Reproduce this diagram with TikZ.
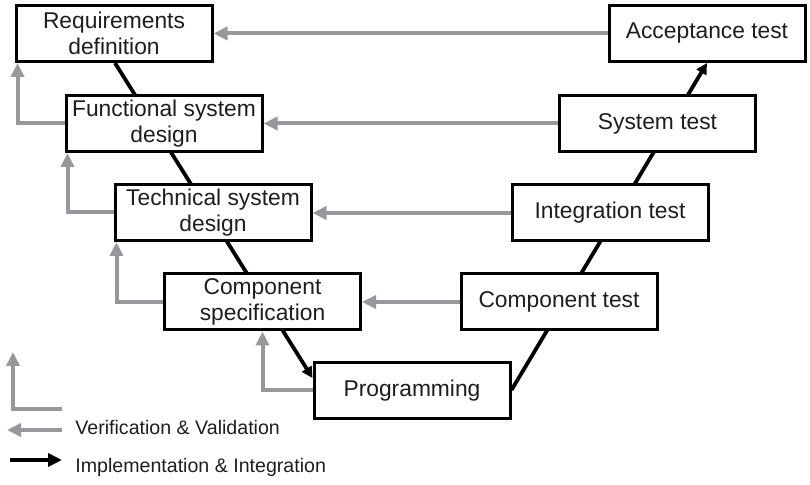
\documentclass[tikz,border=0pt]{standalone}
\usepackage{fontspec}
\setmainfont{Liberation Sans}
\usetikzlibrary{arrows.meta,calc,backgrounds}
\definecolor{vgray}{RGB}{150,152,156}
\definecolor{txt}{RGB}{30,30,30}
\tikzset{
  stagebox/.style={draw=black, line width=1.5pt, fill=white, minimum width=98pt, minimum height=28pt,
    align=center, inner sep=1pt, text=txt, font=\fontsize{11.4}{13}\selectfont},
  vv/.style={draw=vgray, line width=2pt, -{Triangle[length=7pt,width=6.5pt]}},
  impl/.style={draw=black, line width=1.9pt, -{Triangle[length=5.5pt,width=5.5pt]}},
  impllegend/.style={draw=black, line width=1.9pt, -{Triangle[length=7pt,width=6.5pt]}},
  legtext/.style={anchor=west, text=txt, font=\fontsize{9.8}{11}\selectfont, inner sep=0pt}
}
\begin{document}
\begin{tikzpicture}[x=0.5pt,y=-0.5pt]
\useasboundingbox (0,0) rectangle (810,485);
% boxes
\node[stagebox] (req)  at (114,33.5)  {Requirements\\definition};
\node[stagebox] (fsd)  at (164,123.5) {Functional system\\design};
\node[stagebox] (tsd)  at (213,212.5) {Technical system\\design};
\node[stagebox] (cs)   at (262.5,302) {Component\\specification};
\node[stagebox] (prog) at (412,391)   {Programming};
\node[stagebox] (acc)  at (707,33.5)  {Acceptance test};
\node[stagebox] (st)   at (657.5,123.5) {System test};
\node[stagebox] (it)   at (610,213)   {Integration test};
\node[stagebox] (ct)   at (559,302)   {Component test};
% implementation line (behind boxes)
\begin{scope}[on background layer]
\draw[impl] ([xshift=0.5pt]req.south) -- ([yshift=6.5pt]prog.west);
\draw[impl] ([yshift=0.5pt]prog.east) -- (acc.south);
\end{scope}
% verification arrows
\draw[vv] (acc.west) -- (acc.west -| req.east);
\draw[vv] (st.west) -- (st.west -| fsd.east);
\draw[vv] (it.west) -- (it.west -| tsd.east);
\draw[vv] (ct.west) -- (ct.west -| cs.east);
\draw[vv] (fsd.west) -| ($(req.south west)+(3,0)$);
\draw[vv] (tsd.west) -| ($(fsd.south west)+(3,0)$);
\draw[vv] (cs.west) -| ($(tsd.south west)+(3,0)$);
\draw[vv] ([yshift=0.5pt]prog.west) -| (cs.south);
% legend
\coordinate (la) at (62,409);
\coordinate (lb) at (13,409);
\coordinate (lc) at (13,352);
\draw[vv] (la) -- (lb) -- (lc);
\coordinate (ga) at (62,430);
\coordinate (gb) at (7,430);
\draw[vv] (ga) -- (gb);
\coordinate (ba) at (10,460);
\coordinate (bb) at (62,460);
\draw[impllegend] (ba) -- (bb);
\node[legtext] (lv) at (75,428) {Verification \& Validation};
\node[legtext] (li) at (75,467) {Implementation \& Integration};
\end{tikzpicture}
\end{document}
